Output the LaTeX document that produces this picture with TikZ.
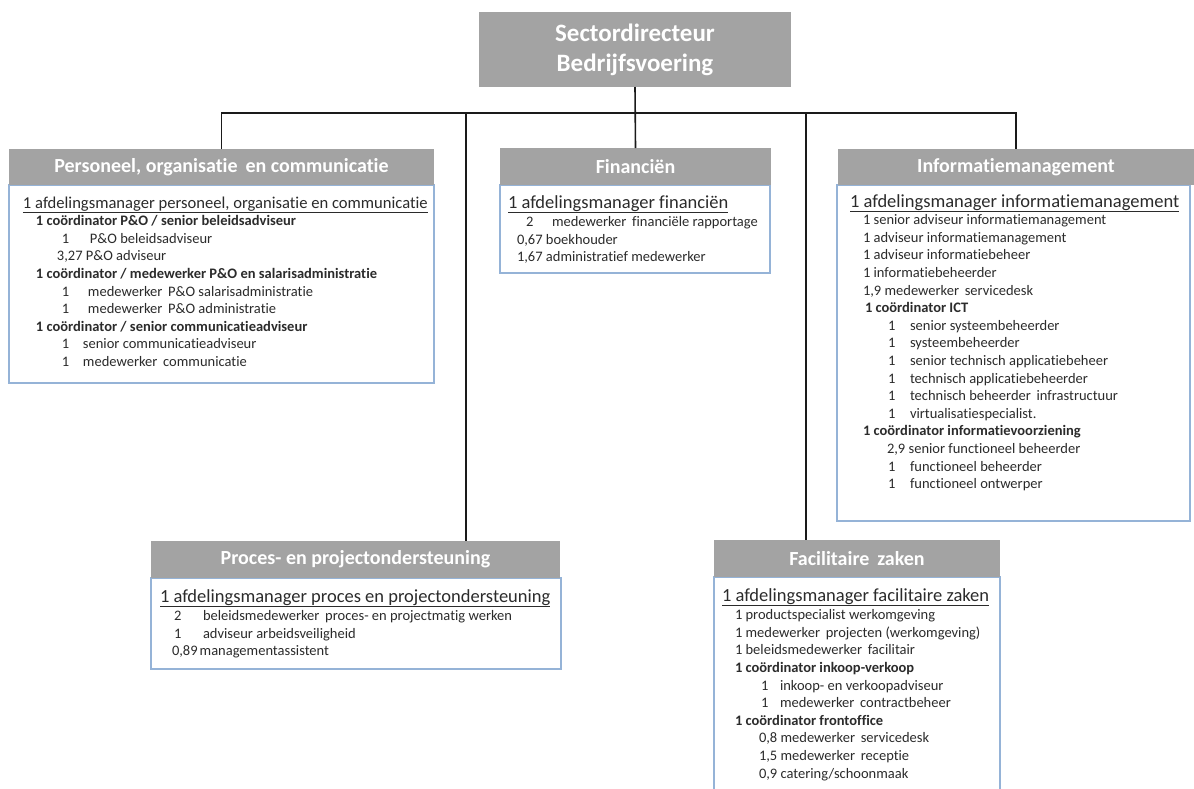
\documentclass[tikz,border=0pt]{standalone}
\usepackage{fontspec}
\setmainfont[Ligatures={NoCommon,NoRequired,NoContextual},Contextuals=NoAlternate]{Carlito}
\definecolor{hdrgray}{HTML}{A3A3A3}
\definecolor{bodyline}{HTML}{95B3D7}
\definecolor{ink}{HTML}{2B2B2B}
\definecolor{wire}{HTML}{1A1A1A}
% column helper: fixed-width slot for a count
\newcommand\cnt[2]{\makebox[#1][l]{#2}}
% underlined head line of a department
\newcommand\mgr[2][18.5]{{\fontsize{#1}{22}\selectfont\underline{#2}}}
\begin{document}
\begin{tikzpicture}[x=1pt,y=-1pt,
  hdr/.style={fill=hdrgray, text=white, font=\bfseries\fontsize{20}{24}\selectfont,
    inner sep=0pt, outer sep=0pt, anchor=north west},
  bodybox/.style={draw=bodyline, line width=1.2pt, fill=white, inner sep=0pt,
    outer sep=0pt, anchor=north west},
  txt/.style={text=ink, font=\fontsize{14.5}{17.6}\selectfont, inner sep=0pt,
    outer sep=0pt, anchor=base west},
  conn/.style={draw=wire, line width=1.6pt, line join=miter}]
\useasboundingbox (0,0) rectangle (1194,788);

% ---- director ----
\node[hdr, font=\bfseries\fontsize{25}{30}\selectfont, align=center,
  minimum width=312pt, minimum height=75pt] (top) at (479,12)
  {Sectordirecteur\\Bedrijfsvoering};

% ---- department frames ----
\node[bodybox, minimum width=425pt, minimum height=198pt] (pers-body) at (9,185) {};
\node[hdr, minimum width=425pt, minimum height=36pt] (pers) at (9,149)
  {Personeel, organisatie\, en communicatie};

\node[bodybox, minimum width=270pt, minimum height=88pt] (fin-body) at (500,185) {};
\node[hdr, minimum width=271pt, minimum height=37pt] (fin) at (500,148) {Financiën};

\node[bodybox, minimum width=353pt, minimum height=336pt] (info-body) at (837,185) {};
\node[hdr, minimum width=356pt, minimum height=36pt] (info) at (838,149) {Informatiemanagement};

\node[bodybox, minimum width=410pt, minimum height=91pt] (proc-body) at (151,578) {};
\node[hdr, minimum width=409pt, minimum height=37pt] (proc) at (151,541) {Proces- en projectondersteuning};

\node[bodybox, minimum width=286pt, minimum height=230pt] (fac-body) at (714,577) {};
\node[hdr, minimum width=286pt, minimum height=37pt] (fac) at (714,540) {Facilitaire\, zaken};

% ---- connectors ----
\coordinate (bus) at (635,113);
\coordinate (tapP) at (466,113);
\coordinate (tapF) at (806,113);
\draw[conn] (top.south) -- (fin.north);
\draw[conn] (pers.north) |- (bus) -| (info.north);
\draw[conn] (tapP) -- (tapP |- proc.north);
\draw[conn] (tapF) -- (tapF |- fac.north);

% ---- staffing lists ----
\node[txt] (pers-txt) at (23,208) {\begin{tabular}[t]{@{}l@{}}
\mgr[16.6]{1 afdelingsmanager personeel, organisatie en communicatie}\\
\hspace*{13pt}\textbf{1 coördinator P\&O / senior beleidsadviseur}\\
\hspace*{39pt}\cnt{28pt}{1}P\&O beleidsadviseur\\
\hspace*{34pt}3,27 P\&O adviseur\\
\hspace*{13pt}\textbf{1 coördinator / medewerker P\&O en salarisadministratie}\\
\hspace*{39pt}\cnt{26pt}{1}medewerker\, P\&O salarisadministratie\\
\hspace*{39pt}\cnt{26pt}{1}medewerker\, P\&O administratie\\
\hspace*{13pt}\textbf{1 coördinator / senior communicatieadviseur}\\
\hspace*{39pt}\cnt{21pt}{1}senior communicatieadviseur\\
\hspace*{39pt}\cnt{21pt}{1}medewerker\, communicatie
\end{tabular}};

\node[txt] (fin-txt) at (508,208) {\begin{tabular}[t]{@{}l@{}}
\mgr{1 afdelingsmanager financiën}\\[1pt]
\hspace*{18pt}\cnt{26pt}{2}medewerker\, financiële rapportage\\
\hspace*{9pt}0,67 boekhouder\\
\hspace*{9pt}1,67 administratief medewerker
\end{tabular}};

\node[txt] (info-txt) at (850,207) {\begin{tabular}[t]{@{}l@{}}
\mgr{1 afdelingsmanager informatiemanagement}\\
\hspace*{13pt}1 senior adviseur informatiemanagement\\
\hspace*{13pt}1 adviseur informatiemanagement\\
\hspace*{13pt}1 adviseur informatiebeheer\\
\hspace*{13pt}1 informatiebeheerder\\
\hspace*{13pt}1,9 medewerker\, servicedesk\\
\hspace*{15pt}\textbf{1 coördinator ICT}\\
\hspace*{38pt}\cnt{22pt}{1}senior systeembeheerder\\
\hspace*{38pt}\cnt{22pt}{1}systeembeheerder\\
\hspace*{38pt}\cnt{22pt}{1}senior technisch applicatiebeheer\\
\hspace*{38pt}\cnt{22pt}{1}technisch applicatiebeheerder\\
\hspace*{38pt}\cnt{22pt}{1}technisch beheerder\, infrastructuur\\
\hspace*{38pt}\cnt{22pt}{1}virtualisatiespecialist.\\
\hspace*{13pt}\textbf{1 coördinator informatievoorziening}\\
\hspace*{37pt}2,9 senior functioneel beheerder\\
\hspace*{38pt}\cnt{22pt}{1}functioneel beheerder\\
\hspace*{38pt}\cnt{22pt}{1}functioneel ontwerper
\end{tabular}};

\node[txt] (proc-txt) at (160,602) {\begin{tabular}[t]{@{}l@{}}
\mgr{1 afdelingsmanager proces en projectondersteuning}\\[1pt]
\hspace*{14pt}\cnt{29pt}{2}beleidsmedewerker\, proces- en projectmatig werken\\
\hspace*{14pt}\cnt{29pt}{1}adviseur arbeidsveiligheid\\
\hspace*{12pt}0,89\hspace{2pt}managementassistent
\end{tabular}};

\node[txt] (fac-txt) at (722,601) {\begin{tabular}[t]{@{}l@{}}
\mgr{1 afdelingsmanager facilitaire zaken}\\[1pt]
\hspace*{13pt}1 productspecialist werkomgeving\\
\hspace*{13pt}1 medewerker\, projecten (werkomgeving)\\
\hspace*{13pt}1 beleidsmedewerker\, facilitair\\
\hspace*{13pt}\textbf{1 coördinator inkoop-verkoop}\\
\hspace*{39pt}\cnt{19pt}{1}inkoop- en verkoopadviseur\\
\hspace*{39pt}\cnt{19pt}{1}medewerker\, contractbeheer\\
\hspace*{13pt}\textbf{1 coördinator frontoffice}\\
\hspace*{37pt}0,8 medewerker\, servicedesk\\
\hspace*{37pt}1,5 medewerker\, receptie\\
\hspace*{37pt}0,9 catering/schoonmaak
\end{tabular}};
\end{tikzpicture}
\end{document}
